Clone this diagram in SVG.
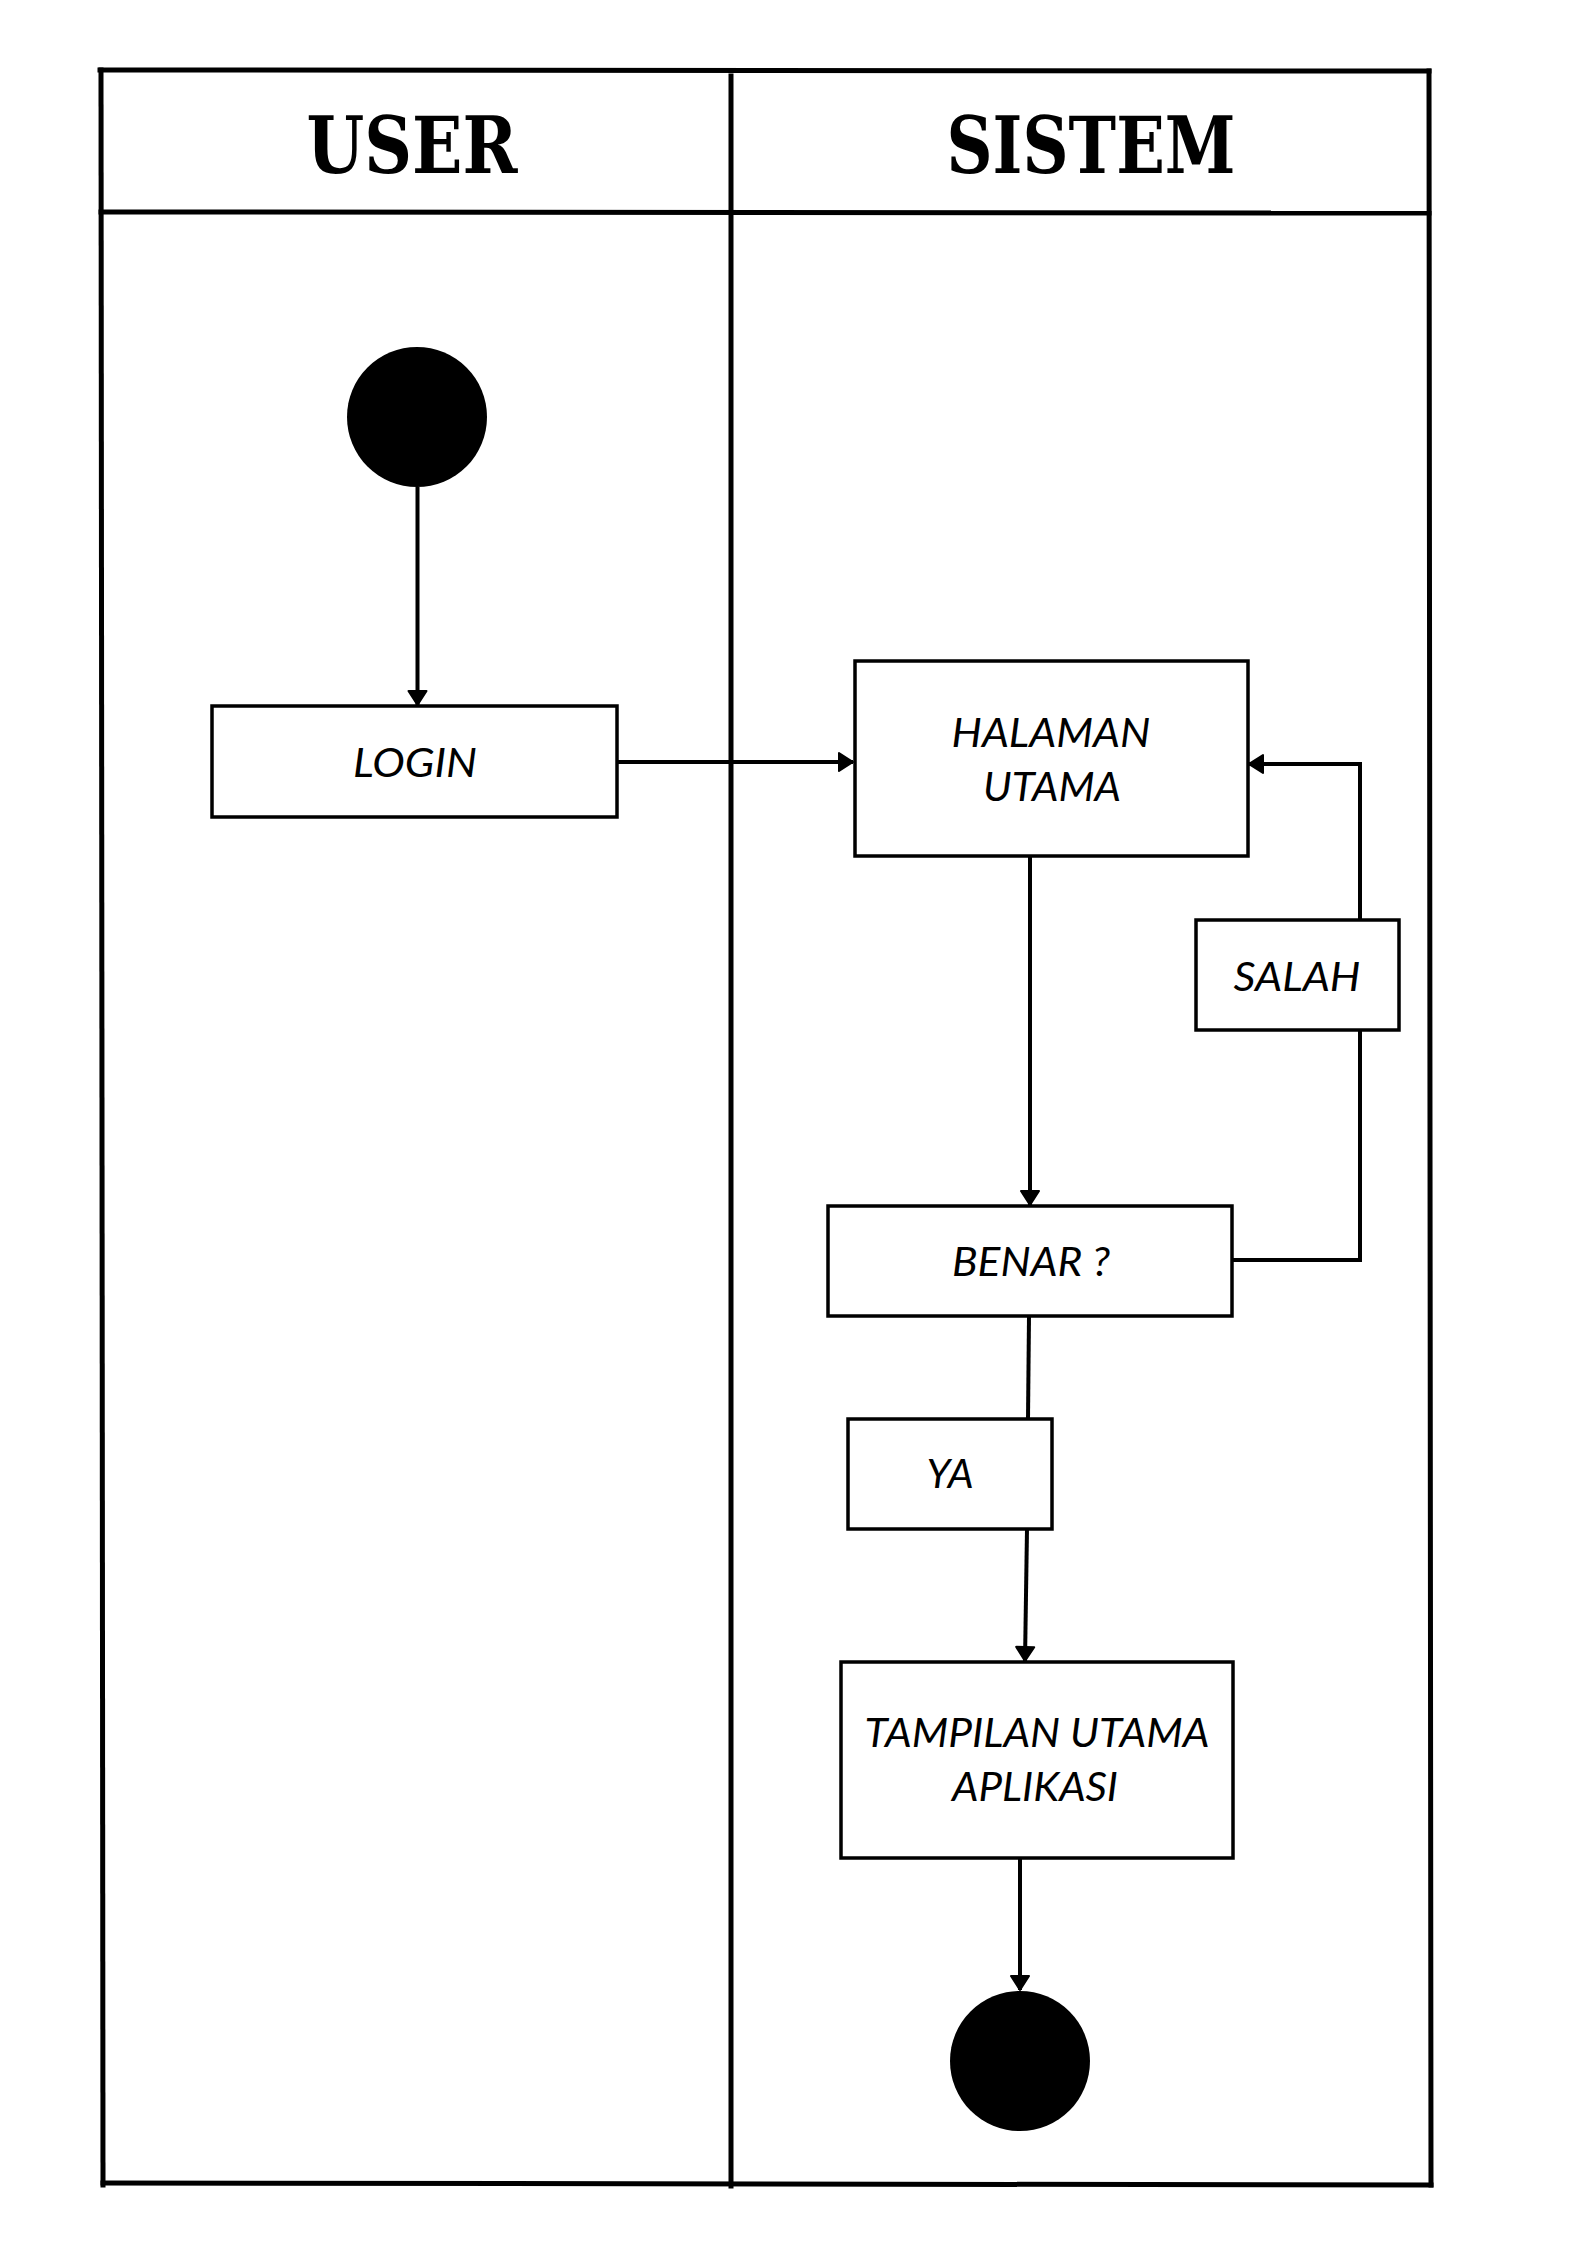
<svg xmlns="http://www.w3.org/2000/svg" width="1587" height="2245" viewBox="0 0 1587 2245">
  <style>
    .frame { stroke: #000; stroke-width: 5; fill: none; stroke-linecap: square; }
    .box { fill: #fff; stroke: #000; stroke-width: 3.5; }
    .conn { stroke: #000; stroke-width: 4; fill: none; }
    .lbl { font-family: Lato, "Liberation Sans", sans-serif; font-style: italic; font-size: 40px; fill: #000; text-anchor: middle; }
    .hdr { font-family: "DejaVu Serif", "Liberation Serif", serif; font-weight: bold; font-size: 78px; fill: #000; text-anchor: middle; }
    .dot { fill: #000; }
  </style>
  <defs>
    <marker id="arrow" markerUnits="userSpaceOnUse" viewBox="0 0 16 22" refX="15.5" refY="11" markerWidth="16" markerHeight="22" orient="auto">
      <path d="M1.5,2 L15.5,11 L1.5,20 Z" fill="#000" stroke="#000" stroke-width="2" stroke-linejoin="round"/>
    </marker>
  </defs>
  <rect x="0" y="0" width="1587" height="2245" fill="#fff"/>

  <g id="swimlanes">
    <line class="frame" x1="100" y1="70" x2="1429" y2="71"/>
    <line class="frame" x1="101" y1="70" x2="103" y2="2185"/>
    <line class="frame" x1="1429" y1="71" x2="1431" y2="2185"/>
    <line class="frame" x1="103" y1="2183" x2="1431" y2="2185"/>
    <line class="frame" x1="101" y1="212" x2="1429" y2="213"/>
    <line class="frame" x1="731" y1="76" x2="731" y2="2186"/>
    <text class="hdr" x="412" y="173" textLength="211" lengthAdjust="spacingAndGlyphs">USER</text>
    <text class="hdr" x="1091" y="173" textLength="289" lengthAdjust="spacingAndGlyphs">SISTEM</text>
  </g>

  <g id="connectors">
    <line class="conn" x1="417.5" y1="487" x2="417.5" y2="705" marker-end="url(#arrow)"/>
    <line class="conn" x1="617" y1="762" x2="853" y2="762" marker-end="url(#arrow)"/>
    <line class="conn" x1="1030" y1="857" x2="1030" y2="1205" marker-end="url(#arrow)"/>
    <polyline class="conn" points="1233,1260 1360,1260 1360,764 1249,764" marker-end="url(#arrow)"/>
    <line class="conn" x1="1029" y1="1316" x2="1028" y2="1419"/>
    <line class="conn" x1="1027" y1="1529" x2="1025" y2="1661" marker-end="url(#arrow)"/>
    <line class="conn" x1="1020" y1="1858" x2="1020" y2="1990" marker-end="url(#arrow)"/>
  </g>

  <g id="start">
    <circle class="dot" cx="417" cy="417" r="70"/>
  </g>

  <g id="login">
    <rect class="box" x="212" y="706" width="405" height="111"/>
    <text class="lbl" x="415" y="777" textLength="124" lengthAdjust="spacingAndGlyphs">LOGIN</text>
  </g>

  <g id="halaman-utama">
    <rect class="box" x="855" y="661" width="393" height="195"/>
    <text class="lbl" x="1051" y="747" textLength="199" lengthAdjust="spacingAndGlyphs">HALAMAN</text>
    <text class="lbl" x="1052" y="801" textLength="138" lengthAdjust="spacingAndGlyphs">UTAMA</text>
  </g>

  <g id="salah">
    <rect class="box" x="1196" y="920" width="203" height="110"/>
    <text class="lbl" x="1297" y="991" textLength="127" lengthAdjust="spacingAndGlyphs">SALAH</text>
  </g>

  <g id="benar">
    <rect class="box" x="828" y="1206" width="404" height="110"/>
    <text class="lbl" x="1031" y="1276" textLength="158" lengthAdjust="spacingAndGlyphs">BENAR ?</text>
  </g>

  <g id="ya">
    <rect class="box" x="848" y="1419" width="204" height="110"/>
    <text class="lbl" x="950" y="1488" textLength="47" lengthAdjust="spacingAndGlyphs">YA</text>
  </g>

  <g id="tampilan-utama-aplikasi">
    <rect class="box" x="841" y="1662" width="392" height="196"/>
    <text class="lbl" x="1037" y="1747" textLength="345" lengthAdjust="spacingAndGlyphs">TAMPILAN UTAMA</text>
    <text class="lbl" x="1035" y="1801" textLength="166" lengthAdjust="spacingAndGlyphs">APLIKASI</text>
  </g>

  <g id="end">
    <circle class="dot" cx="1020" cy="2061" r="70"/>
  </g>
</svg>
